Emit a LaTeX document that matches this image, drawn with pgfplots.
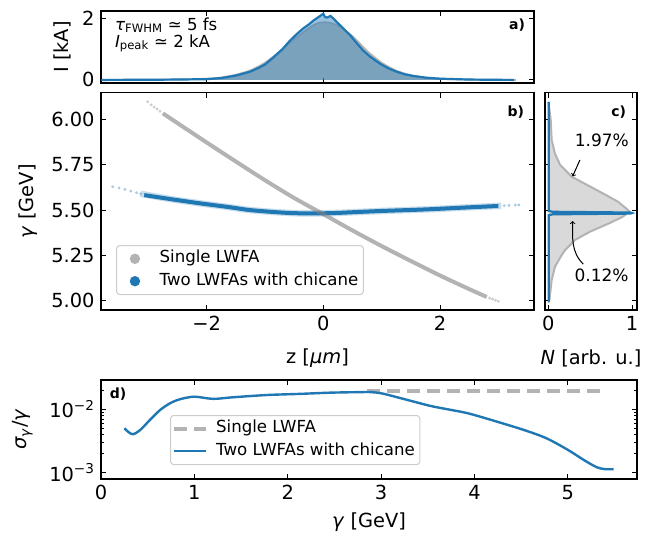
\documentclass[border=0pt]{standalone}
\usepackage{fontspec}
\setmainfont{DejaVu Sans}
\usepackage{pgfplots}
\pgfplotsset{compat=1.18}
\definecolor{tabblue}{HTML}{1F77B4}
\definecolor{mgray}{HTML}{B3B3B3}
\definecolor{lgray}{HTML}{D9D9D9}
\definecolor{lframe}{HTML}{CCCCCC}
\newcommand{\tickfont}{\fontsize{19.4}{23}\selectfont}
\newcommand{\legfont}{\fontsize{16.6}{19}\selectfont}
\newcommand{\annfont}{\fontsize{17}{20}\selectfont}
\newcommand{\panfont}{\fontsize{14}{16}\selectfont\bfseries}

\pgfplotsset{
  base/.style={
    scale only axis, anchor=south west,
    axis line style={line width=1.1pt},
    tick align=inside,
    major tick length=5pt, minor tick length=3pt,
    every tick/.style={black, line width=0.9pt},
    tick label style={font=\tickfont},
    xticklabel style={yshift=-3pt},
    yticklabel style={xshift=-3pt},
    label style={font=\tickfont},
  },
  leg/.style={
    legend cell align=left,
    legend style={font=\legfont, draw=lframe, line width=1pt, rounded corners=3pt,
      fill=white, fill opacity=0.8, text opacity=1,
      inner xsep=2pt, inner ysep=3.4pt, row sep=2.6pt,
      nodes={inner xsep=3pt, inner ysep=2pt, text height=12pt, text depth=3.8pt},
      /tikz/every odd column/.style={column sep=5pt}},
  },
}

\begin{document}
\begin{tikzpicture}
\path[use as bounding box] (0pt,0pt) rectangle (654pt,539pt);

% a) current profile
\begin{axis}[base, at={(101pt,456pt)}, width=433pt, height=72pt,
  xmin=-3.81, xmax=3.61, ymin=-0.1, ymax=2.24,
  xtick={-2,0,2}, xticklabels={},
  ytick={0,2}, yticklabels={0,2},
  ylabel={I [kA]}, ylabel style={at={(axis description cs:-0.09,0.5)}, anchor=center}]
\addplot[draw=none, fill=gray, fill opacity=0.45, smooth] coordinates {
  (-3.8,0)(-3.0,0.005)(-2.5,0.015)(-2.0,0.04)(-1.75,0.08)(-1.5,0.17)(-1.25,0.31)
  (-1.0,0.56)(-0.75,0.92)(-0.5,1.32)(-0.25,1.68)(-0.1,1.84)(0,1.87)(0.1,1.86)
  (0.25,1.76)(0.5,1.42)(0.75,0.94)(1.0,0.56)(1.25,0.3)(1.5,0.15)(1.75,0.075)
  (2.0,0.04)(2.5,0.01)(3.0,0.003)(3.3,0)} \closedcycle;
\addplot[mgray, line width=1.8pt, smooth] coordinates {
  (-3.8,0)(-3.0,0.005)(-2.5,0.015)(-2.0,0.04)(-1.75,0.08)(-1.5,0.17)(-1.25,0.31)
  (-1.0,0.56)(-0.75,0.92)(-0.5,1.32)(-0.25,1.68)(-0.1,1.84)(0,1.87)(0.1,1.86)
  (0.25,1.76)(0.5,1.42)(0.75,0.94)(1.0,0.56)(1.25,0.3)(1.5,0.15)(1.75,0.075)
  (2.0,0.04)(2.5,0.01)(3.0,0.003)(3.3,0)};
\addplot[draw=none, fill=tabblue, fill opacity=0.45] coordinates {
  (-3.8,0)(-3.0,0.005)(-2.5,0.012)(-2.0,0.025)(-1.75,0.06)(-1.5,0.14)(-1.25,0.27)
  (-1.1,0.4)(-1.0,0.5)(-0.85,0.74)(-0.7,1.0)(-0.57,1.28)(-0.45,1.5)(-0.34,1.68)
  (-0.25,1.8)(-0.17,1.93)(-0.1,2.02)(-0.04,2.1)(0.0,2.15)(0.03,2.04)(0.07,2.03)
  (0.12,2.08)(0.17,2.0)(0.23,1.88)(0.35,1.66)(0.46,1.45)(0.57,1.2)(0.68,0.96)
  (0.8,0.76)(0.97,0.53)(1.1,0.39)(1.25,0.27)(1.4,0.18)(1.54,0.13)(1.75,0.075)
  (2.0,0.04)(2.5,0.012)(3.0,0.003)(3.27,0)} \closedcycle;
\addplot[tabblue, line width=2.2pt] coordinates {
  (-3.8,0)(-3.0,0.005)(-2.5,0.012)(-2.0,0.025)(-1.75,0.06)(-1.5,0.14)(-1.25,0.27)
  (-1.1,0.4)(-1.0,0.5)(-0.85,0.74)(-0.7,1.0)(-0.57,1.28)(-0.45,1.5)(-0.34,1.68)
  (-0.25,1.8)(-0.17,1.93)(-0.1,2.02)(-0.04,2.1)(0.0,2.15)(0.03,2.04)(0.07,2.03)
  (0.12,2.08)(0.17,2.0)(0.23,1.88)(0.35,1.66)(0.46,1.45)(0.57,1.2)(0.68,0.96)
  (0.8,0.76)(0.97,0.53)(1.1,0.39)(1.25,0.27)(1.4,0.18)(1.54,0.13)(1.75,0.075)
  (2.0,0.04)(2.5,0.012)(3.0,0.003)(3.27,0)};
\node[anchor=west, font=\legfont, inner sep=0pt] at (rel axis cs:0.032,0.8)
  {\textit{τ}\textsubscript{FWHM} ≃ 5 fs};
\node[anchor=west, font=\legfont, inner sep=0pt] at (rel axis cs:0.032,0.55)
  {\textit{I}\textsubscript{peak} ≃ 2 kA};
\node[font=\panfont] at (rel axis cs:0.961,0.80) {a)};
\end{axis}

% b) longitudinal phase space
\begin{axis}[base, leg, at={(101pt,229pt)}, width=433pt, height=217.3pt,
  xmin=-3.81, xmax=3.61, ymin=4.95, ymax=6.147,
  xtick={-2,0,2}, xticklabels={−2,0,2},
  ytick={5,5.25,5.5,5.75,6}, yticklabels={5.00,5.25,5.50,5.75,6.00},
  xlabel={z [\textit{μm}]}, xlabel style={at={(axis description cs:0.5,-0.221)}, anchor=center},
  ylabel={\textit{γ} [GeV]}, ylabel style={at={(axis description cs:-0.169,0.5)}, anchor=center},
  legend style={at={(0.035,0.069)}, anchor=south west},
  legend image code/.code={\path[draw=none, fill=none] (0pt,-1pt) rectangle (33pt,1pt);
    \fill[#1, draw=none, fill opacity=1] (16.3pt,0pt) circle (5.2pt);}]
\addplot[forget plot, tabblue, opacity=0.25, line width=6.5pt, smooth] coordinates {
  (-3.13,5.59)(-2.6,5.56)(-2.1,5.537)(-1.6,5.516)(-1.243,5.5)(-0.673,5.486)(-0.27,5.482)
  (0.18,5.484)(0.6,5.49)(1.036,5.496)(1.5,5.501)(1.89,5.506)(2.46,5.515)(3.05,5.524)};
\addplot[forget plot, tabblue, line width=4pt, smooth] coordinates {
  (-3.07,5.583)(-2.6,5.56)(-2.1,5.537)(-1.6,5.516)(-1.243,5.5)(-0.673,5.486)(-0.27,5.482)
  (0.18,5.484)(0.6,5.49)(1.036,5.496)(1.5,5.501)(1.89,5.506)(2.46,5.515)(3.0,5.523)};
\addplot[forget plot, only marks, mark=*, mark size=1.3pt, tabblue, opacity=0.3] coordinates {
  (-3.61,5.629)(-3.5,5.622)(-3.4,5.614)(-3.3,5.605)(-3.2,5.596)(-3.13,5.59)
  (3.1,5.525)(3.18,5.526)(3.29,5.528)(3.35,5.529)};
\addplot[forget plot, gray, opacity=0.6, line width=4pt, smooth] coordinates {
  (-2.75,6.033)(-2.0,5.873)(-1.5,5.768)(-1.0,5.665)(-0.5,5.567)(0,5.478)(0.5,5.388)
  (1.0,5.302)(1.5,5.22)(2.0,5.14)(2.5,5.065)(2.8,5.022)};
\addplot[forget plot, only marks, mark=*, mark size=1.3pt, gray, opacity=0.3] coordinates {
  (-3.01,6.097)(-2.95,6.08)(-2.9,6.068)(-2.85,6.057)(-2.8,6.045)
  (2.85,5.015)(2.9,5.01)(2.95,5.004)(3.0,4.998)};
\addlegendimage{mgray}
\addlegendentry{Single LWFA}
\addlegendimage{tabblue}
\addlegendentry{Two LWFAs with chicane}
\node[font=\panfont] at (rel axis cs:0.958,0.911) {b)};
\end{axis}

% c) energy spectrum
\begin{axis}[base, at={(545pt,229pt)}, width=92pt, height=217.3pt,
  xmin=-0.04, xmax=1.06, ymin=4.95, ymax=6.147,
  xtick={0,1}, xticklabels={0,1},
  ytick={5,5.25,5.5,5.75,6}, yticklabels={},
  xlabel={\textit{N} [arb. u.]}, xlabel style={at={(axis description cs:0.5,-0.221)}, anchor=center}]
\addplot[fill=lgray, draw=none] coordinates {
  (0,4.99)(0.012,5.0)(0.04,5.116)(0.08,5.189)(0.16,5.253)(0.2,5.28)(0.32,5.336)
  (0.5,5.382)(0.73,5.428)(0.89,5.464)(0.97,5.492)(0.93,5.51)(0.83,5.547)(0.69,5.583)
  (0.5,5.63)(0.28,5.684)(0.14,5.75)(0.08,5.81)(0.04,5.886)(0.028,6.0)(0,6.097)} -- cycle;
\addplot[mgray, line width=2pt] coordinates {
  (0,4.99)(0.012,5.0)(0.04,5.116)(0.08,5.189)(0.16,5.253)(0.2,5.28)(0.32,5.336)
  (0.5,5.382)(0.73,5.428)(0.89,5.464)(0.97,5.492)(0.93,5.51)(0.83,5.547)(0.69,5.583)
  (0.5,5.63)(0.28,5.684)(0.14,5.75)(0.08,5.81)(0.04,5.886)(0.028,6.0)(0,6.097)};
\addplot[tabblue, line width=2.2pt] coordinates {
  (0.005,4.996)(0.005,5.472)(0.05,5.477)(0.98,5.481)(1.0,5.484)(0.98,5.487)
  (0.05,5.491)(0.005,5.496)(0.005,6.097)};
\node[font=\annfont] at (axis cs:0.64,5.886) {1.97\%};
\draw[->, line width=1pt] (axis cs:0.377,5.776) -- (axis cs:0.29,5.686);
\node[font=\annfont] at (axis cs:0.636,5.142) {0.12\%};
\draw[->, line width=1pt] (axis cs:0.418,5.2025) to[out=135, in=-90] (axis cs:0.29,5.44);
\node[font=\panfont] at (rel axis cs:0.80,0.911) {c)};
\end{axis}

% d) relative energy spread
\begin{axis}[base, leg, at={(101pt,60pt)}, width=536pt, height=99pt,
  xmin=0, xmax=5.74, ymode=log, ymin=7.9e-4, ymax=0.029,
  xtick={0,1,2,3,4,5}, xticklabels={0,1,2,3,4,5},
  ytick={0.001,0.01}, yticklabels={10\textsuperscript{−3},10\textsuperscript{−2}},
  minor ytick={0.002,0.003,0.004,0.005,0.006,0.007,0.008,0.009,0.02},
  xlabel={\textit{γ} [GeV]}, xlabel style={at={(axis description cs:0.5,-0.431)}, anchor=center},
  ylabel={\textit{σ}\textsubscript{\textit{γ}}/\textit{γ}}, ylabel style={at={(axis description cs:-0.146,0.5)}, anchor=center},
  legend style={at={(0.129,0.141)}, anchor=south west},
  legend image code/.code={\draw[#1] (0pt,0pt) -- (32pt,0pt);}]
\addplot[mgray, line width=3.5pt, dash pattern=on 13pt off 7pt] coordinates {
  (2.85,0.0193)(3.5,0.0193)(4.0,0.0193)(4.5,0.0193)(5.0,0.0193)(5.42,0.0193)};
\addlegendentry{Single LWFA}
\addplot[tabblue, line width=2.4pt, smooth] coordinates {
  (0.25,0.0050)(0.3,0.0043)(0.346,0.00403)(0.42,0.0047)(0.525,0.0068)(0.632,0.0097)
  (0.74,0.01245)(0.846,0.0144)(1.0,0.0158)(1.2,0.0146)(1.42,0.0155)(1.78,0.0168)
  (2.13,0.0175)(2.46,0.0183)(2.81,0.0187)(2.88,0.0187)(3.0,0.0179)(3.17,0.0155)
  (3.35,0.0132)(3.53,0.01127)(3.71,0.0100)(3.88,0.00897)(4.0,0.0081)(4.24,0.00637)
  (4.53,0.0047)(4.77,0.00348)(5.0,0.00228)(5.17,0.00158)(5.31,0.00121)(5.4,0.00113)(5.49,0.00113)};
\addlegendentry{Two LWFAs with chicane}
\node[font=\panfont] at (rel axis cs:0.032,0.86) {d)};
\end{axis}
\end{tikzpicture}
\end{document}
